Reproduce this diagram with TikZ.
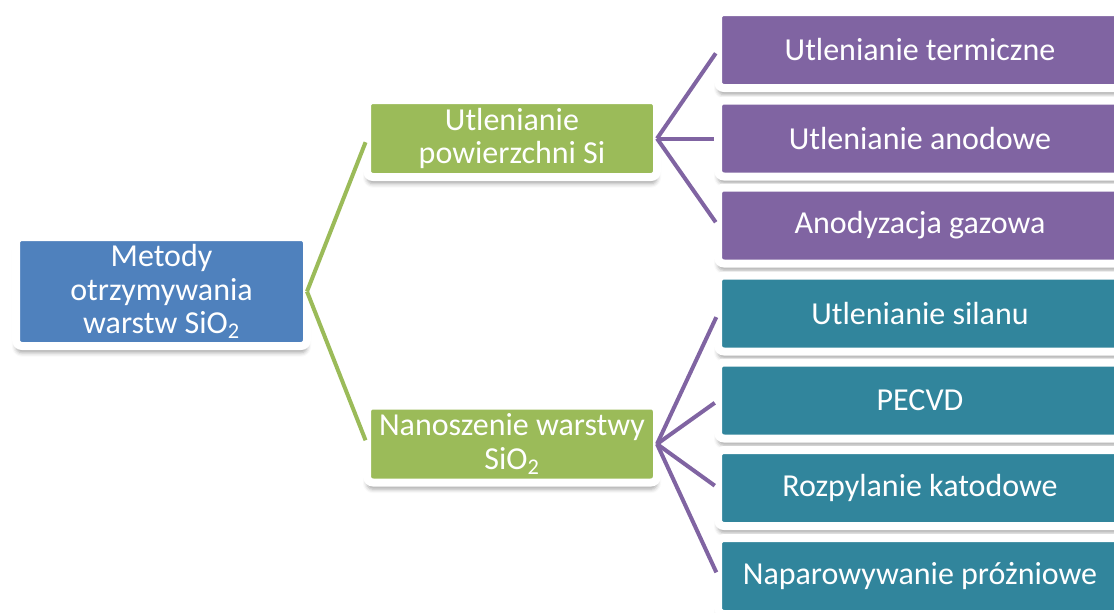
\documentclass[tikz,border=0pt]{standalone}
\usepackage{fontspec}
\setmainfont{Carlito}
\usepackage{xcolor}
\usetikzlibrary{shadows.blur}
\definecolor{metblue}{HTML}{4F81BD}
\definecolor{metgreen}{HTML}{9BBB59}
\definecolor{metpurple}{HTML}{8064A2}
\definecolor{metteal}{HTML}{31859C}

\begin{document}
\begin{tikzpicture}[x=0.75pt, y=-0.75pt,
    box/.style={rectangle, rounded corners=4.5pt, draw=white, line width=6pt,
      text=white, align=center, inner sep=0pt, outer sep=0pt,
      font=\fontsize{24}{25}\selectfont,
      blur shadow={shadow xshift=0pt, shadow yshift=-5pt, shadow blur radius=3pt, shadow opacity=35}},
    rootbox/.style={box, fill=metblue, minimum width=218.25pt, minimum height=81.75pt},
    midbox/.style={box, fill=metgreen, minimum width=217.5pt, minimum height=57.75pt},
    leafbox/.style={box, minimum width=303pt, minimum height=57pt},
    greenline/.style={metgreen, line width=3pt, shorten >=3pt},
    purpleline/.style={metpurple, line width=3pt, shorten >=3pt}]
    \useasboundingbox (0, 0) rectangle (1114, 612);

    \node[rootbox] (metody) at (161.5, 291.5) {Metody\\otrzymywania\\warstw SiO\textsubscript{2}};

    \node[midbox] (utl) at (512, 138.5) {Utlenianie\\powierzchni Si};
    \node[midbox] (nan) at (512, 444) {Nanoszenie warstwy\\SiO\textsubscript{2}};

    \node[leafbox, fill=metpurple] (utl1) at (920, 50) {Utlenianie termiczne};
    \node[leafbox, fill=metpurple] (utl2) at (920, 138.5) {Utlenianie anodowe};
    \node[leafbox, fill=metpurple] (utl3) at (920, 225.5) {Anodyzacja gazowa};

    \node[leafbox, fill=metteal] (nan1) at (920, 313.5) {Utlenianie silanu};
    \node[leafbox, fill=metteal] (nan2) at (920, 400.5) {PECVD};
    \node[leafbox, fill=metteal] (nan3) at (920, 488) {Rozpylanie katodowe};
    \node[leafbox, fill=metteal] (nan4) at (920, 576) {Naparowywanie próżniowe};

    \draw[greenline] (metody.east) -- (utl.west);
    \draw[greenline] (metody.east) -- (nan.west);

    \draw[purpleline] (utl.east) -- (utl1.west);
    \draw[purpleline] (utl.east) -- (utl2.west);
    \draw[purpleline] (utl.east) -- (utl3.west);

    \draw[purpleline] (nan.east) -- (nan1.west);
    \draw[purpleline] (nan.east) -- (nan2.west);
    \draw[purpleline] (nan.east) -- (nan3.west);
    \draw[purpleline] (nan.east) -- (nan4.west);

\end{tikzpicture}
\end{document}
